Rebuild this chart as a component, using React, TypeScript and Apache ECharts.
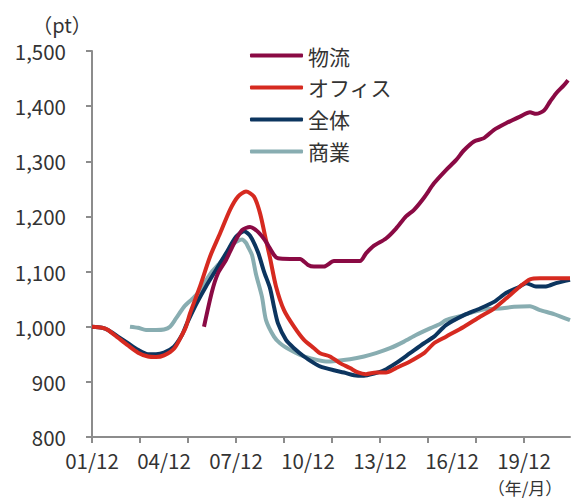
import React, { useEffect, useRef } from "react";
import * as echarts from "echarts";

// monthly categories from 2001/12
const START_YEAR = 2001;
const START_MONTH = 12;
const MONTH_COUNT = 240;
const categories: string[] = [];
for (let i = 0; i < MONTH_COUNT; i++) {
  const t = START_YEAR * 12 + (START_MONTH - 1) + i;
  const y = Math.floor(t / 12);
  const m = (t % 12) + 1;
  categories.push(`${String(y % 100).padStart(2, "0")}/${String(m).padStart(2, "0")}`);
}

const seriesNames = ["物流", "オフィス", "全体", "商業"];
const seriesColors = ["#8A0A44", "#D62A20", "#0C355F", "#88ADB1"];

// [month index since 2001/12, index value]
const logistics: [number, number][] = [
  [56, 1000], [60, 1064], [63, 1097], [67, 1121], [71, 1151], [75, 1175], [79, 1181],
  [83, 1172], [87, 1154], [91, 1130], [93, 1124], [99, 1123], [104, 1123], [108, 1112],
  [111, 1109], [116, 1109], [121, 1119], [134, 1119], [137, 1133], [141, 1147], [147, 1160],
  [152, 1178], [157, 1200], [161, 1212], [166, 1234], [171, 1260], [177, 1284], [182, 1302],
  [186, 1320], [191, 1336], [196, 1342], [201, 1357], [207, 1369], [214, 1381], [219, 1389],
  [222, 1386], [226, 1392], [229, 1408], [232, 1423], [236, 1438], [238, 1447],
];
const office: [number, number][] = [
  [0, 1000], [5, 998], [8, 994], [13, 980], [18, 966], [23, 953], [28, 946], [32, 945],
  [36, 948], [41, 960], [45, 985], [47, 1000], [49, 1024], [54, 1073], [59, 1127], [64, 1169],
  [69, 1212], [73, 1236], [77, 1245], [81, 1236], [84, 1206], [87, 1157], [89, 1125],
  [92, 1073], [96, 1030], [101, 1000], [106, 976], [111, 961], [114, 952], [119, 946],
  [124, 934], [129, 925], [133, 917], [137, 914], [142, 917], [147, 917], [152, 925],
  [159, 937], [166, 952], [171, 970], [177, 982], [186, 1000], [194, 1018], [201, 1033],
  [207, 1051], [214, 1073], [219, 1086], [224, 1088], [239, 1088],
];
const total: [number, number][] = [
  [0, 1000], [5, 998], [8, 994], [13, 982], [18, 970], [23, 958], [28, 950], [32, 950],
  [36, 953], [41, 964], [45, 985], [47, 1002], [52, 1040], [57, 1073], [62, 1103], [67, 1133],
  [72, 1163], [76, 1173], [79, 1165], [83, 1135], [86, 1100], [89, 1070], [91, 1036],
  [93, 1006], [97, 976], [101, 961], [106, 946], [111, 934], [114, 928], [121, 921],
  [126, 917], [131, 912], [136, 911], [141, 915], [146, 921], [152, 934], [159, 952],
  [166, 970], [171, 982], [177, 1003], [186, 1021], [194, 1033], [201, 1045], [207, 1061],
  [214, 1073], [217, 1079], [222, 1073], [227, 1073], [232, 1079], [239, 1085],
];
const commercial: [number, number][] = [
  [19, 1000], [23, 998], [27, 994], [32, 994], [36, 995], [39, 1000], [42, 1015], [46, 1036],
  [50, 1050], [53, 1061], [56, 1078], [60, 1100], [63, 1112], [66, 1124], [68, 1133],
  [71, 1151], [75, 1158], [77, 1152], [78, 1145], [80, 1130], [82, 1095], [85, 1054],
  [87, 1012], [91, 982], [94, 970], [99, 958], [104, 949], [109, 943], [117, 937],
  [122, 938], [129, 941], [136, 946], [142, 952], [149, 961], [156, 973], [162, 985],
  [169, 997], [174, 1005], [177, 1012], [184, 1019], [191, 1027], [197, 1032], [204, 1033],
  [211, 1036], [219, 1037], [224, 1030], [231, 1023], [239, 1012],
];
const seriesData = [logistics, office, total, commercial];

const Y_MIN = 800;
const Y_MAX = 1500;
const Y_INTERVAL = 100;

const FONT = '"Noto Sans CJK JP", "Noto Sans", sans-serif';

export default function App() {
  const ref = useRef<HTMLDivElement>(null);
  useEffect(() => {
    document.body.style.margin = "0";
    if (!ref.current) return;
    const chart = echarts.init(ref.current, undefined, { renderer: "svg" });
    chart.setOption({
      animation: false,
      backgroundColor: "#ffffff",
      textStyle: { fontFamily: FONT },
      grid: { left: 92, right: 2, top: 51, bottom: 64, containLabel: false },
      legend: {
        orient: "vertical",
        left: 245,
        top: 40,
        icon: "roundRect",
        itemWidth: 53,
        itemHeight: 4,
        itemGap: 11,
        data: seriesNames,
        textStyle: { fontSize: 21, color: "#333", fontFamily: FONT },
      },
      xAxis: {
        type: "category",
        data: categories,
        boundaryGap: false,
        axisLine: { lineStyle: { color: "#8c8c8c", width: 2 } },
        axisTick: { show: true, interval: 23, length: 6, lineStyle: { color: "#8c8c8c", width: 2 } },
        axisLabel: { interval: 35, margin: 13, fontSize: 20.5, color: "#333", fontFamily: FONT },
        splitLine: { show: false },
      },
      yAxis: {
        type: "value",
        min: Y_MIN,
        max: Y_MAX,
        interval: Y_INTERVAL,
        axisLine: { show: true, lineStyle: { color: "#8c8c8c", width: 2 } },
        axisTick: { show: true, length: 6, lineStyle: { color: "#8c8c8c", width: 2 } },
        axisLabel: {
          margin: 26,
          fontSize: 20.5,
          color: "#333",
          fontFamily: FONT,
          formatter: (v: number) => v.toLocaleString("en-US"),
        },
        splitLine: { show: false },
      },
      graphic: [
        {
          type: "text",
          x: 62,
          y: 24,
          style: { text: "（pt）", fill: "#333", font: `20px ${FONT}`, textAlign: "center", textVerticalAlign: "middle" },
        },
        {
          type: "text",
          x: 525,
          y: 487,
          style: { text: "（年/月）", fill: "#333", font: `17px ${FONT}`, textAlign: "center", textVerticalAlign: "middle" },
        },
      ],
      series: seriesNames.map((name, i) => ({
        name,
        type: "line",
        data: seriesData[i],
        showSymbol: false,
        symbol: "none",
        smooth: 0.25,
        color: seriesColors[i],
        itemStyle: { color: seriesColors[i] },
        lineStyle: { color: seriesColors[i], width: 4 },
        z: 10 - i,
      })),
    });
    return () => chart.dispose();
  }, []);
  return <div ref={ref} style={{ width: 572, height: 501 }} />;
}
